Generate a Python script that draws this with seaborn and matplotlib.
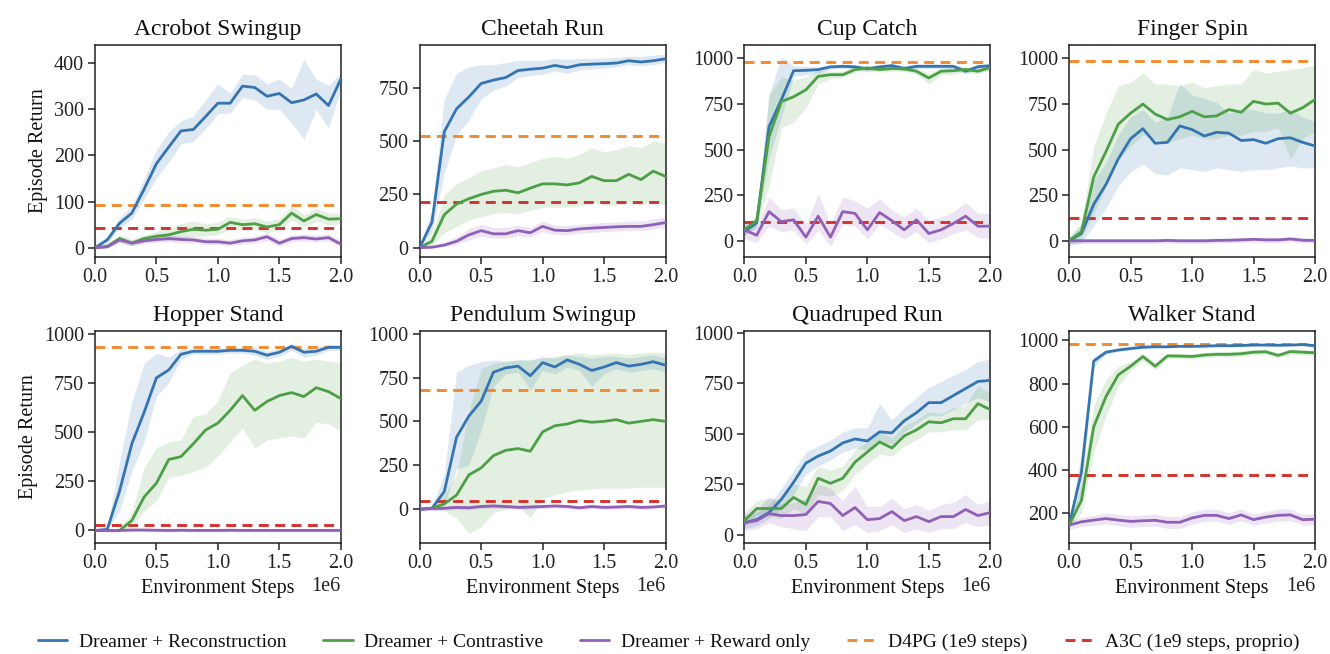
import matplotlib
matplotlib.use("Agg")
import matplotlib.pyplot as plt
import seaborn as sns
import pandas as pd
from matplotlib.lines import Line2D

# ---------------- data ----------------
STEPS = [i * 100000 for i in range(21)]
METHODS = ["Dreamer + Reconstruction", "Dreamer + Contrastive", "Dreamer + Reward only"]
BASELINES = ["D4PG (1e9 steps)", "A3C (1e9 steps, proprio)"]
TITLES = ["Acrobot Swingup", "Cheetah Run", "Cup Catch", "Finger Spin",
          "Hopper Stand", "Pendulum Swingup", "Quadruped Run", "Walker Stand"]

# Acrobot Swingup
ACRO_REC = [0, 17, 53, 75, 127, 182, 218, 253, 256, 284, 313, 313, 350, 347, 328, 334, 314, 320, 333, 308, 365]
ACRO_REC_LO = [0, 10, 42, 62, 105, 152, 185, 225, 230, 258, 290, 292, 325, 320, 300, 300, 270, 235, 300, 258, 345]
ACRO_REC_HI = [3, 25, 65, 90, 150, 212, 250, 275, 285, 320, 355, 335, 375, 375, 355, 365, 345, 408, 365, 352, 378]
ACRO_CON = [0, 3, 20, 10, 20, 25, 28, 35, 40, 38, 40, 55, 50, 52, 45, 50, 75, 58, 72, 62, 63]
ACRO_CON_LO = [0, 0, 12, 4, 12, 15, 15, 20, 25, 25, 28, 40, 38, 40, 32, 38, 60, 45, 58, 50, 52]
ACRO_CON_HI = [3, 8, 28, 18, 28, 35, 42, 52, 58, 52, 55, 68, 62, 65, 58, 62, 90, 72, 85, 75, 75]
ACRO_REW = [0, 2, 17, 10, 15, 18, 20, 18, 17, 13, 13, 10, 15, 17, 24, 10, 20, 22, 19, 22, 8]
ACRO_REW_LO = [0, 0, 11, 4, 9, 12, 13, 11, 10, 7, 7, 4, 8, 10, 16, 3, 13, 15, 12, 15, 2]
ACRO_REW_HI = [2, 6, 24, 17, 22, 26, 28, 26, 25, 21, 21, 18, 23, 25, 32, 18, 28, 30, 27, 30, 16]
ACRO_BASE = [92, 42]

# Cheetah Run
CHEE_REC = [0, 120, 545, 653, 709, 772, 788, 800, 833, 839, 844, 857, 847, 860, 863, 865, 868, 879, 873, 879, 888]
CHEE_REC_LO = [0, 70, 350, 530, 600, 700, 740, 760, 800, 810, 815, 830, 820, 835, 840, 845, 850, 860, 855, 860, 870]
CHEE_REC_HI = [5, 180, 700, 820, 850, 860, 860, 870, 880, 880, 880, 890, 885, 890, 890, 892, 895, 900, 900, 905, 910]
CHEE_CON = [0, 30, 155, 205, 230, 250, 265, 270, 258, 280, 300, 300, 295, 305, 335, 315, 315, 345, 320, 360, 335]
CHEE_CON_LO = [0, 10, 70, 100, 130, 145, 160, 165, 160, 175, 190, 190, 190, 195, 215, 200, 200, 210, 200, 220, 200]
CHEE_CON_HI = [5, 60, 250, 300, 330, 360, 375, 390, 380, 400, 420, 430, 420, 440, 470, 450, 460, 480, 470, 500, 495]
CHEE_REW = [0, 2, 12, 30, 60, 80, 65, 65, 80, 70, 100, 82, 80, 88, 92, 95, 98, 100, 100, 108, 118]
CHEE_REW_LO = [0, 0, 5, 15, 35, 55, 45, 45, 55, 50, 75, 62, 60, 68, 72, 75, 78, 80, 80, 88, 95]
CHEE_REW_HI = [2, 8, 25, 50, 90, 110, 95, 95, 105, 95, 125, 105, 105, 110, 115, 118, 120, 125, 125, 135, 145]
CHEE_BASE = [524, 213]

# Cup Catch
CUP_REC = [52, 98, 625, 773, 933, 935, 939, 954, 957, 954, 943, 954, 961, 945, 957, 957, 957, 957, 930, 955, 960]
CUP_REC_LO = [30, 70, 450, 680, 900, 910, 920, 940, 945, 940, 925, 940, 948, 930, 945, 945, 945, 945, 915, 940, 948]
CUP_REC_HI = [80, 130, 800, 1010, 960, 955, 955, 965, 968, 965, 960, 965, 972, 960, 970, 970, 970, 968, 945, 968, 972]
CUP_CON = [60, 110, 570, 763, 790, 828, 902, 911, 911, 939, 948, 939, 945, 943, 930, 893, 930, 933, 940, 930, 950]
CUP_CON_LO = [30, 80, 300, 620, 650, 730, 860, 890, 895, 925, 935, 925, 930, 930, 915, 860, 910, 915, 925, 915, 935]
CUP_CON_HI = [90, 140, 800, 900, 880, 900, 935, 930, 930, 955, 960, 955, 960, 958, 948, 920, 948, 950, 955, 948, 965]
CUP_REW = [60, 30, 160, 105, 115, 20, 135, 20, 160, 150, 60, 155, 110, 60, 115, 40, 60, 95, 135, 80, 80]
CUP_REW_LO = [10, -10, 80, 50, 60, -20, 60, -30, 90, 80, 10, 90, 50, 10, 50, -10, 10, 40, 60, 20, 10]
CUP_REW_HI = [110, 80, 240, 170, 180, 90, 260, 90, 240, 220, 180, 230, 170, 130, 180, 110, 130, 160, 210, 150, 150]
CUP_BASE = [980, 105]

# Finger Spin
FING_REC = [0, 40, 200, 310, 450, 560, 615, 535, 540, 630, 610, 575, 595, 590, 550, 555, 535, 560, 565, 540, 520]
FING_REC_LO = [-30, -10, 80, 180, 300, 380, 420, 370, 360, 400, 390, 380, 400, 390, 380, 390, 390, 400, 410, 400, 400]
FING_REC_HI = [20, 90, 330, 430, 580, 680, 720, 650, 680, 860, 800, 780, 760, 700, 720, 720, 700, 700, 720, 680, 650]
FING_CON = [0, 50, 350, 490, 640, 700, 750, 695, 665, 680, 710, 680, 685, 720, 705, 765, 750, 755, 700, 730, 775]
FING_CON_LO = [-20, 10, 150, 300, 450, 520, 580, 560, 540, 560, 580, 560, 560, 580, 580, 600, 600, 620, 450, 560, 600]
FING_CON_HI = [20, 100, 520, 700, 850, 870, 920, 860, 860, 850, 870, 840, 850, 860, 860, 940, 920, 930, 940, 950, 960]
FING_REW = [0, 0, 0, 0, 0, 0, 0, 0, 2, 0, 0, 0, 2, 3, 5, 8, 5, 5, 10, 3, 2]
FING_REW_LO = [-15, -15, -15, -15, -15, -15, -15, -15, -13, -15, -15, -15, -13, -12, -10, -7, -10, -10, -5, -12, -13]
FING_REW_HI = [12, 12, 12, 12, 12, 12, 12, 12, 14, 12, 12, 12, 14, 15, 17, 20, 17, 17, 22, 15, 14]
FING_BASE = [985, 127]

# Hopper Stand
HOPP_REC = [0, 5, 200, 440, 600, 775, 815, 895, 910, 910, 910, 915, 915, 910, 890, 905, 935, 905, 910, 930, 930]
HOPP_REC_LO = [-5, 0, 100, 300, 450, 680, 750, 870, 895, 895, 895, 900, 900, 890, 870, 885, 915, 880, 890, 915, 915]
HOPP_REC_HI = [5, 15, 350, 650, 850, 900, 880, 920, 925, 925, 925, 930, 930, 930, 910, 925, 950, 925, 935, 945, 945]
HOPP_CON = [0, 0, 0, 50, 170, 240, 360, 375, 440, 510, 545, 610, 685, 610, 655, 685, 700, 680, 725, 705, 670]
HOPP_CON_LO = [-5, -5, -5, 20, 100, 150, 270, 280, 300, 320, 380, 450, 520, 420, 460, 470, 480, 470, 550, 540, 510]
HOPP_CON_HI = [5, 5, 10, 90, 320, 420, 450, 460, 580, 590, 660, 800, 840, 870, 850, 860, 880, 860, 870, 860, 850]
HOPP_REW = [0, 0, 0, 2, 2, 1, 0, 1, 0, 0, 0, 1, 0, 0, 0, 0, 0, 0, 0, 0, 0]
HOPP_REW_LO = [-8, -8, -8, -6, -6, -7, -8, -7, -8, -8, -8, -7, -8, -8, -8, -8, -8, -8, -8, -8, -8]
HOPP_REW_HI = [8, 8, 8, 10, 10, 9, 8, 9, 8, 8, 8, 9, 8, 8, 8, 8, 8, 8, 8, 8, 8]
HOPP_BASE = [930, 28]

# Pendulum Swingup
PEND_REC = [0, 5, 100, 410, 530, 615, 780, 805, 815, 760, 835, 810, 850, 825, 790, 810, 835, 815, 825, 840, 820]
PEND_REC_LO = [-5, 0, 20, 230, 250, 450, 700, 770, 780, 680, 790, 770, 810, 790, 700, 770, 800, 780, 790, 800, 780]
PEND_REC_HI = [5, 15, 200, 780, 820, 840, 850, 845, 850, 850, 870, 860, 880, 870, 860, 870, 870, 860, 870, 880, 860]
PEND_CON = [0, 5, 30, 80, 195, 235, 305, 335, 345, 330, 440, 475, 485, 505, 495, 500, 510, 490, 500, 510, 500]
PEND_CON_LO = [-5, -5, -10, -50, -140, -100, -20, 0, 20, -50, 60, 80, 100, 110, 115, 120, 120, 120, 125, 125, 125]
PEND_CON_HI = [5, 15, 80, 200, 560, 800, 830, 840, 850, 850, 860, 870, 880, 890, 880, 885, 890, 880, 890, 895, 890]
PEND_REW = [0, 3, 5, 10, 8, 15, 18, 15, 10, 12, 15, 18, 15, 8, 15, 10, 12, 15, 10, 12, 18]
PEND_REW_LO = [-10, -8, -6, -2, -4, 3, 6, 3, -2, 0, 3, 6, 3, -4, 3, -2, 0, 3, -2, 0, 6]
PEND_REW_HI = [10, 14, 16, 22, 20, 27, 30, 27, 22, 24, 27, 30, 27, 20, 27, 22, 24, 27, 22, 24, 30]
PEND_BASE = [680, 48]

# Quadruped Run
QUAD_REC = [60, 75, 110, 175, 260, 355, 390, 415, 455, 475, 465, 510, 505, 565, 605, 655, 655, 690, 725, 760, 765]
QUAD_REC_LO = [30, 45, 80, 130, 200, 300, 340, 370, 410, 430, 420, 460, 450, 510, 550, 590, 590, 620, 650, 680, 660]
QUAD_REC_HI = [90, 110, 150, 230, 320, 410, 440, 470, 510, 530, 530, 650, 570, 630, 680, 730, 760, 790, 820, 860, 870]
QUAD_CON = [70, 130, 130, 130, 185, 150, 280, 255, 280, 360, 410, 460, 430, 490, 520, 560, 555, 575, 575, 650, 620]
QUAD_CON_LO = [40, 100, 90, 80, 130, 100, 200, 190, 220, 300, 350, 400, 390, 440, 470, 510, 510, 520, 520, 570, 570]
QUAD_CON_HI = [110, 170, 180, 180, 250, 240, 340, 320, 340, 420, 460, 510, 480, 540, 570, 610, 600, 630, 640, 740, 700]
QUAD_REW = [60, 70, 105, 95, 95, 100, 165, 155, 95, 135, 75, 80, 115, 70, 90, 65, 90, 90, 125, 95, 110]
QUAD_REW_LO = [20, 30, 60, 40, 30, 20, 90, 90, 20, 50, 10, 20, 50, 10, 30, 10, 30, 30, 60, 40, 50]
QUAD_REW_HI = [100, 120, 190, 150, 160, 180, 250, 230, 170, 240, 140, 140, 180, 130, 150, 120, 150, 160, 200, 150, 170]
QUAD_BASE = [None, None]

# Walker Stand
WALK_REC = [145, 390, 904, 945, 955, 962, 968, 970, 970, 972, 972, 973, 975, 975, 976, 978, 978, 977, 978, 980, 975]
WALK_REC_LO = [135, 300, 880, 935, 948, 955, 962, 965, 965, 967, 967, 968, 970, 970, 971, 973, 973, 972, 973, 975, 968]
WALK_REC_HI = [155, 480, 925, 955, 962, 968, 974, 975, 975, 977, 977, 978, 980, 980, 981, 983, 983, 982, 983, 985, 982]
WALK_CON = [145, 260, 600, 740, 840, 880, 925, 880, 928, 927, 925, 932, 935, 935, 938, 945, 947, 930, 948, 945, 942]
WALK_CON_LO = [135, 200, 480, 650, 790, 860, 905, 865, 915, 915, 912, 920, 922, 922, 925, 932, 935, 918, 935, 932, 930]
WALK_CON_HI = [155, 330, 700, 820, 880, 900, 940, 895, 940, 940, 938, 944, 948, 948, 950, 957, 958, 942, 960, 957, 954]
WALK_REW = [145, 160, 168, 175, 168, 162, 165, 167, 158, 158, 178, 190, 190, 175, 192, 170, 182, 190, 192, 170, 172]
WALK_REW_LO = [125, 138, 145, 150, 142, 135, 138, 140, 130, 130, 150, 162, 162, 148, 165, 145, 155, 162, 165, 145, 148]
WALK_REW_HI = [165, 182, 190, 200, 195, 190, 192, 195, 185, 185, 205, 218, 218, 202, 220, 195, 208, 218, 220, 195, 198]
WALK_BASE = [985, 378]

YLIMS = [(-20, 439), (-44, 953), (-89, 1074), (-89, 1074),
         (-64, 1013), (-193, 1015), (-41, 1010), (62, 1043)]
YTICKS = [[0, 100, 200, 300, 400], [0, 250, 500, 750], [0, 250, 500, 750, 1000], [0, 250, 500, 750, 1000],
          [0, 250, 500, 750, 1000], [0, 250, 500, 750, 1000], [0, 250, 500, 750, 1000],
          [200, 400, 600, 800, 1000]]

PANELS = [
    (ACRO_REC, ACRO_REC_LO, ACRO_REC_HI, ACRO_CON, ACRO_CON_LO, ACRO_CON_HI, ACRO_REW, ACRO_REW_LO, ACRO_REW_HI, ACRO_BASE),
    (CHEE_REC, CHEE_REC_LO, CHEE_REC_HI, CHEE_CON, CHEE_CON_LO, CHEE_CON_HI, CHEE_REW, CHEE_REW_LO, CHEE_REW_HI, CHEE_BASE),
    (CUP_REC, CUP_REC_LO, CUP_REC_HI, CUP_CON, CUP_CON_LO, CUP_CON_HI, CUP_REW, CUP_REW_LO, CUP_REW_HI, CUP_BASE),
    (FING_REC, FING_REC_LO, FING_REC_HI, FING_CON, FING_CON_LO, FING_CON_HI, FING_REW, FING_REW_LO, FING_REW_HI, FING_BASE),
    (HOPP_REC, HOPP_REC_LO, HOPP_REC_HI, HOPP_CON, HOPP_CON_LO, HOPP_CON_HI, HOPP_REW, HOPP_REW_LO, HOPP_REW_HI, HOPP_BASE),
    (PEND_REC, PEND_REC_LO, PEND_REC_HI, PEND_CON, PEND_CON_LO, PEND_CON_HI, PEND_REW, PEND_REW_LO, PEND_REW_HI, PEND_BASE),
    (QUAD_REC, QUAD_REC_LO, QUAD_REC_HI, QUAD_CON, QUAD_CON_LO, QUAD_CON_HI, QUAD_REW, QUAD_REW_LO, QUAD_REW_HI, QUAD_BASE),
    (WALK_REC, WALK_REC_LO, WALK_REC_HI, WALK_CON, WALK_CON_LO, WALK_CON_HI, WALK_REW, WALK_REW_LO, WALK_REW_HI, WALK_BASE),
]

# ---------------- style ----------------
COLORS = {"Dreamer + Reconstruction": "#3574b3",
          "Dreamer + Contrastive": "#4c9f45",
          "Dreamer + Reward only": "#905fb8"}
BASE_COLORS = ["#f28a30", "#d3332f"]
DASH = (0, (3.4, 2.2))

sns.set_theme(style="ticks")
plt.rcParams['font.family'] = ['Liberation Serif', 'DejaVu Serif']
plt.rcParams.update({
    "axes.edgecolor": "#222222",
    "axes.linewidth": 1.1,
    "xtick.color": "#222222",
    "ytick.color": "#222222",
    "xtick.labelsize": 14.5,
    "ytick.labelsize": 14.5,
    "xtick.major.size": 5,
    "ytick.major.size": 5,
    "xtick.major.width": 1.1,
    "ytick.major.width": 1.1,
    "axes.labelsize": 14.5,
    "axes.titlesize": 17,
    "text.color": "#111111",
    "axes.labelcolor": "#111111",
})

fig, axes = plt.subplots(2, 4, figsize=(13.3, 6.54), dpi=100)
fig.subplots_adjust(left=0.0714, right=0.9887, top=0.9312, bottom=0.1697,
                    wspace=0.321, hspace=0.349)

for k, ax in enumerate(axes.flat):
    rec, rec_lo, rec_hi, con, con_lo, con_hi, rew, rew_lo, rew_hi, base = PANELS[k]
    df = pd.DataFrame({
        "step": STEPS * 3,
        "ret": rec + con + rew,
        "method": [METHODS[0]] * 21 + [METHODS[1]] * 21 + [METHODS[2]] * 21,
    })
    for m, lo, hi in zip(METHODS, (rec_lo, con_lo, rew_lo), (rec_hi, con_hi, rew_hi)):
        ax.fill_between(STEPS, lo, hi, color=COLORS[m], alpha=0.16, linewidth=0)
    for b, c in zip(base, BASE_COLORS):
        if b is not None:
            ax.axhline(b, color=c, linestyle=DASH, linewidth=2.1, zorder=1.5)
    sns.lineplot(data=df, x="step", y="ret", hue="method", hue_order=METHODS,
                 palette=COLORS, linewidth=2.0, ax=ax, legend=False, zorder=3)
    ax.set_title(TITLES[k], pad=7)
    ax.set_xlim(0, 2000000)
    ax.set_xticks([0, 500000, 1000000, 1500000, 2000000])
    ax.set_ylim(*YLIMS[k])
    ax.set_yticks(YTICKS[k])
    ax.tick_params(axis="both", pad=3)
    for s in ax.spines.values():
        s.set_visible(True)
    if k < 4:
        ax.set_xlabel("")
        ax.xaxis.get_offset_text().set_visible(False)
    else:
        ax.set_xlabel("Environment Steps", labelpad=4)
        ax.xaxis.get_offset_text().set_fontsize(14.5)
    if k % 4 == 0:
        ax.set_ylabel("Episode Return", labelpad=4)
    else:
        ax.set_ylabel("")

handles = [Line2D([0], [0], color=COLORS[m], linewidth=2.0) for m in METHODS]
handles += [Line2D([0], [0], color=c, linewidth=2.1, linestyle=DASH) for c in BASE_COLORS]
fig.legend(handles, METHODS + BASELINES, loc="lower center", ncol=5, frameon=False,
           bbox_to_anchor=(0.503, -0.022), fontsize=14, handlelength=1.5,
           columnspacing=1.9, handletextpad=0.6)

fig.savefig("out.png", dpi=100)
